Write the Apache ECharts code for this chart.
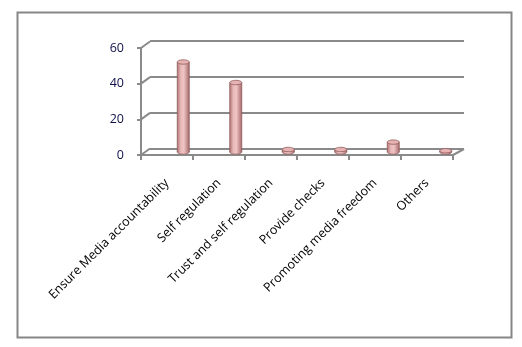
<!DOCTYPE html>
<html><head><meta charset="utf-8">
<script src="https://cdn.jsdelivr.net/npm/echarts@6/dist/echarts.min.js"></script>
<style>html,body{margin:0;padding:0;background:#fff}#c{width:522px;height:347px}</style>
</head><body><div id="c"></div>
<script>
const categories = ['Ensure Media accountability', 'Self regulation', 'Trust and self regulation', 'Provide checks', 'Promoting media freedom', 'Others'];
const values = [50, 38.6, 1.4, 1.4, 5.5, 0.7];
const yTicks = [0, 20, 40, 60];

const GRID_GRAY = '#8a8a8a';
const chart = echarts.init(document.getElementById('c'), null, {renderer: 'canvas'});

const barGrad = () => new echarts.graphic.LinearGradient(0, 0, 1, 0, [
  {offset: 0, color: '#b27676'},
  {offset: 0.3, color: '#e9b9b9'},
  {offset: 0.55, color: '#efc4c4'},
  {offset: 1, color: '#a86b6b'}
]);

const option = {
  backgroundColor: '#fff',
  animation: false,
  graphic: [{
    type: 'rect', left: 15, top: 10, shape: {width: 494, height: 325},
    style: {fill: 'none', stroke: '#868686', lineWidth: 2}, silent: true
  }],
  grid: [
    {left: 141, top: 48, width: 312, height: 107},
    {left: 150, top: 41, width: 314, height: 108},
    {left: 157, top: 44, width: 315, height: 108}
  ],
  xAxis: [
    {gridIndex: 0, type: 'category', data: categories, boundaryGap: true,
     axisLine: {lineStyle: {color: GRID_GRAY, width: 2}},
     axisTick: {show: true, length: 5, lineStyle: {color: GRID_GRAY, width: 2}},
     axisLabel: {rotate: 45, interval: 0, margin: 26, color: '#000', fontFamily: 'Open Sans', fontSize: 12.5}},
    {gridIndex: 1, type: 'category', data: categories, show: false},
    {gridIndex: 2, type: 'category', data: categories, show: false}
  ],
  yAxis: [
    {gridIndex: 0, type: 'value', min: 0, max: 60, interval: 20,
     axisLine: {show: true, lineStyle: {color: GRID_GRAY, width: 2}},
     axisTick: {show: true, length: 4, lineStyle: {color: GRID_GRAY, width: 2}},
     axisLabel: {margin: 17, color: '#10104a', fontFamily: 'Open Sans', fontSize: 12.5},
     splitLine: {show: false}},
    {gridIndex: 1, type: 'value', min: 0, max: 60, interval: 20,
     axisLine: {show: false}, axisTick: {show: false}, axisLabel: {show: false},
     splitLine: {show: true, lineStyle: {color: GRID_GRAY, width: 2}}},
    {gridIndex: 2, type: 'value', min: 0, max: 60, interval: 20, show: false}
  ],
  series: [
    {
      type: 'custom', xAxisIndex: 0, yAxisIndex: 0, silent: true,
      data: yTicks.map(v => [0, v]),
      renderItem: (params, api) => {
        const v = api.value(1);
        const p = api.coord([0, v]);
        const half = api.size([1, 0])[0] / 2;
        const xL = p[0] - half;
        const children = [{
          type: 'line', shape: {x1: xL, y1: p[1], x2: xL + 9, y2: p[1] - 6.5},
          style: {stroke: GRID_GRAY, lineWidth: 2}
        }];
        if (v === 0) {
          const q = api.coord([categories.length - 1, 0]);
          const xR = q[0] + half;
          children.push({type: 'line', shape: {x1: xR, y1: q[1], x2: xR + 11, y2: q[1] - 6},
            style: {stroke: GRID_GRAY, lineWidth: 2}});
        }
        return {type: 'group', children};
      }
    },
    {
      type: 'custom', xAxisIndex: 2, yAxisIndex: 2, silent: true,
      data: values.map((v, i) => [i, v]),
      renderItem: (params, api) => {
        const base = api.coord([api.value(0), 0]);
        const top = api.coord([api.value(0), api.value(1)]);
        const w = 12, ry = 2.2, cx = base[0], x0 = cx - w / 2;
        const edge = '#8f5c5c';
        return {type: 'group', children: [
          {type: 'ellipse', shape: {cx: cx, cy: base[1], rx: w / 2, ry: ry}, style: {fill: barGrad(), stroke: edge, lineWidth: 0.8}},
          {type: 'rect', shape: {x: x0, y: top[1], width: w, height: Math.max(base[1] - top[1], 0)}, style: {fill: barGrad()}},
          {type: 'line', shape: {x1: x0, y1: top[1], x2: x0, y2: base[1]}, style: {stroke: edge, lineWidth: 0.8}},
          {type: 'line', shape: {x1: x0 + w, y1: top[1], x2: x0 + w, y2: base[1]}, style: {stroke: edge, lineWidth: 0.8}},
          {type: 'ellipse', shape: {cx: cx, cy: top[1], rx: w / 2, ry: ry}, style: {fill: '#e7b2b2', stroke: edge, lineWidth: 0.8}}
        ]};
      }
    }
  ]
};
chart.setOption(option);
</script></body></html>
